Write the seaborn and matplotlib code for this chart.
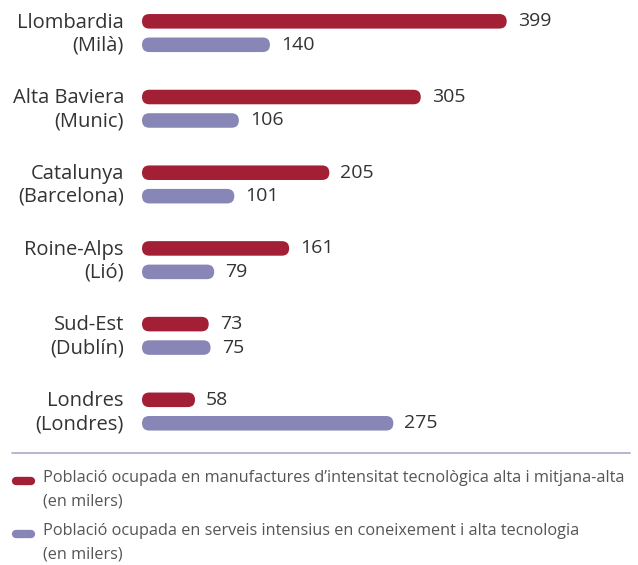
import matplotlib
matplotlib.use("Agg")
import matplotlib.pyplot as plt
import matplotlib.transforms as mtransforms
import seaborn as sns
import pandas as pd
from matplotlib.patches import FancyBboxPatch
from matplotlib.lines import Line2D

regions = ["Llombardia\n(Milà)", "Alta Baviera\n(Munic)", "Catalunya\n(Barcelona)",
           "Roine-Alps\n(Lió)", "Sud-Est\n(Dublín)", "Londres\n(Londres)"]
manufactures = [399, 305, 205, 161, 73, 58]
serveis = [140, 106, 101, 79, 75, 275]
series_names = ["Població ocupada en manufactures d’intensitat tecnològica alta i mitjana-alta\n(en milers)",
                "Població ocupada en serveis intensius en coneixement i alta tecnologia\n(en milers)"]
colors = ["#A31F35", "#8886B6"]

df = pd.DataFrame({
    "region": regions * 2,
    "value": manufactures + serveis,
    "serie": [series_names[0]] * len(regions) + [series_names[1]] * len(regions),
})

sns.set_theme(style="white")
plt.rcParams["font.family"] = ["Open Sans", "DejaVu Sans"]

W, H = 638, 565
fig = plt.figure(figsize=(W / 100, H / 100), dpi=100)
left_px, right_px, top_px, bot_px = 142, 638, 0, 445
ax = fig.add_axes([left_px / W, 1 - bot_px / H, (right_px - left_px) / W, (bot_px - top_px) / H])

sns.barplot(data=df, y="region", x="value", hue="serie", palette=colors, orient="h",
            width=0.62, gap=0.38, ax=ax, legend=False, saturation=1)

kx = 0.914  # px per unit
ax.set_xlim(0, (right_px - left_px) / kx)
ax.set_ylim(5.442, -0.4366)
sns.despine(ax=ax, left=True, bottom=True)
ax.set_xticks([])
ax.set_xlabel("")
ax.set_ylabel("")
ax.tick_params(axis="y", length=0, pad=13)
shift = mtransforms.ScaledTranslation(0, 3 / 100, fig.dpi_scale_trans)
for lab in ax.get_yticklabels():
    lab.set_fontsize(14.5)
    lab.set_color("#333333")
    lab.set_linespacing(1.2)
    lab.set_horizontalalignment("right")
    lab.set_transform(lab.get_transform() + shift)

# rounded bars
px_per_x = kx
px_per_y = (bot_px - top_px) / (5.442 + 0.4366)
for container in ax.containers:
    ax.bar_label(container, fmt="%d", padding=8, fontsize=14, color="#333333")
    for rect in container.patches:
        x, y = rect.get_x(), rect.get_y()
        w, h = rect.get_width(), rect.get_height()
        r_px = h * px_per_y / 2
        r_x = r_px / px_per_x
        aspect = (r_px / px_per_y) / r_x
        fb = FancyBboxPatch((x, y), w, h,
                            boxstyle=f"round,pad=0,rounding_size={r_x}",
                            mutation_aspect=aspect,
                            facecolor=rect.get_facecolor(), edgecolor="none")
        ax.add_patch(fb)
        rect.set_visible(False)

# separator
fig.add_artist(Line2D([12 / W, 630 / W], [1 - 453 / H, 1 - 453 / H],
                      transform=fig.transFigure, color="#A9A9C8", lw=1.2))

# legend
leg_y = [481, 534]
for name, c, y in zip(series_names, colors, leg_y):
    fig.add_artist(Line2D([16 / W, 31 / W], [1 - y / H, 1 - y / H], transform=fig.transFigure,
                          color=c, lw=6, solid_capstyle="round"))
    fig.text(43 / W, 1 - (y - 11) / H, name, fontsize=11.7, color="#555555",
             va="top", ha="left", linespacing=1.62)

fig.savefig("out.png", dpi=100)
